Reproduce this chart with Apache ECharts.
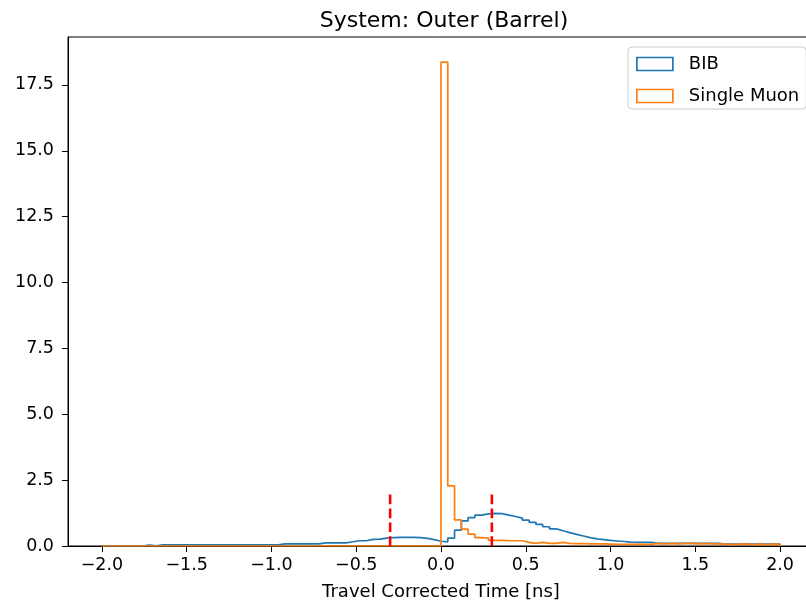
<!DOCTYPE html>
<html>
<head>
<meta charset="utf-8">
<script src="https://cdn.jsdelivr.net/npm/echarts@6/dist/echarts.min.js"></script>
<style>
  html, body { margin: 0; padding: 0; background: #ffffff; }
  #chart { width: 806px; height: 605px; }
</style>
</head>
<body>
<div id="chart"></div>
<script>
// Histogram binning: 100 bins of 0.04 ns covering [-2, 2]
const binStart = -2.0;
const binWidth = 0.04;
const binCount = 100;

// Normalised entries per bin, BIB hits
const bibCounts = [
  0, 0, 0, 0, 0, 0, 0.03, 0.01, 0.04, 0.04,
  0.04, 0.04, 0.04, 0.04, 0.04, 0.04, 0.04, 0.04, 0.04, 0.04,
  0.04, 0.04, 0.04, 0.04, 0.04, 0.04, 0.08, 0.08, 0.08, 0.08,
  0.08, 0.08, 0.12, 0.12, 0.12, 0.12, 0.16, 0.20, 0.20, 0.25,
  0.26, 0.30, 0.32, 0.33, 0.33, 0.33, 0.32, 0.29, 0.24, 0.18,
  0.16, 0.30, 0.60, 0.95, 1.08, 1.17, 1.22, 1.24, 1.23, 1.17,
  1.12, 1.06, 0.98, 0.90, 0.82, 0.73, 0.65, 0.58, 0.51, 0.44,
  0.38, 0.32, 0.27, 0.24, 0.21, 0.19, 0.17, 0.15, 0.14, 0.14,
  0.14, 0.10, 0.10, 0.10, 0.10, 0.10, 0.10, 0.10, 0.10, 0.10,
  0.10, 0.07, 0.07, 0.07, 0.07, 0.07, 0.07, 0.07, 0.07, 0.07
];

// Normalised entries per bin, single muon hits
const muonCounts = [
  0, 0, 0, 0, 0, 0, 0, 0, 0, 0,
  0, 0, 0, 0, 0, 0, 0, 0, 0, 0,
  0, 0, 0, 0, 0, 0, 0, 0, 0, 0,
  0, 0, 0, 0, 0, 0, 0, 0, 0, 0,
  0, 0, 0, 0, 0, 0, 0, 0, 0, 0,
  18.37, 2.28, 0.99, 0.64, 0.45, 0.32, 0.30, 0.21, 0.21, 0.20,
  0.20, 0.20, 0.14, 0.10, 0.14, 0.10, 0.10, 0.14, 0.10, 0.09,
  0.09, 0.08, 0.08, 0.08, 0.07, 0.06, 0.06, 0.06, 0.06, 0.06,
  0.06, 0.10, 0.08, 0.10, 0.08, 0.10, 0.10, 0.08, 0.10, 0.08,
  0.08, 0.07, 0.05, 0.07, 0.07, 0.05, 0.07, 0.05, 0.07, 0.06
];

// Timing window cut markers
const cutTimes = [-0.3, 0.3];
const cutHeight = 2.0;

// Axis ranges and tick positions
const xRange = [-2.2, 2.2];
const yRange = [0, 19.32];
const xTicks = [-2.0, -1.5, -1.0, -0.5, 0.0, 0.5, 1.0, 1.5, 2.0];
const yTicks = [0, 2.5, 5.0, 7.5, 10.0, 12.5, 15.0, 17.5];

const FONT = 'DejaVu Sans';
const BLUE = '#1f77b4';
const ORANGE = '#ff7f0e';

function edge(i) {
  return +(binStart + i * binWidth).toFixed(4);
}

// Outline of a step histogram: rise from zero, bin tops, fall back to zero
function stepOutline(counts) {
  const pts = [[edge(0), 0]];
  for (let i = 0; i < binCount; i++) {
    pts.push([edge(i), counts[i]]);
    pts.push([edge(i + 1), counts[i]]);
  }
  pts.push([edge(binCount), 0]);
  return pts;
}

const fmtTick = v => (v < 0 ? '\u2212' : '') + Math.abs(v).toFixed(1);

const tickLabelStyle = { fontFamily: FONT, fontSize: 17.5, color: '#000000' };

const cutSeries = cutTimes.map(t => ({
  type: 'line',
  data: [[t, 0], [t, cutHeight]],
  symbol: 'none',
  silent: true,
  z: 4,
  lineStyle: { color: '#ff0000', width: 2.6, type: [9.7, 4.2] }
}));

const chart = echarts.init(document.getElementById('chart'));
chart.setOption({
  animation: false,
  title: {
    text: 'System: Outer (Barrel)',
    left: 439,
    top: 5,
    textAlign: 'center',
    textStyle: { fontFamily: FONT, fontSize: 22, fontWeight: 'normal', color: '#000000' }
  },
  grid: {
    left: 68, right: -8, top: 37, bottom: 59,
    show: true, borderColor: '#000000', borderWidth: 1,
    backgroundColor: 'transparent',
    containLabel: false,
    outerBoundsMode: 'none'
  },
  legend: {
    orient: 'vertical',
    left: 628,
    top: 47,
    padding: [8, 7, 4, 8],
    itemWidth: 36,
    itemHeight: 13,
    itemGap: 14,
    backgroundColor: 'rgba(255,255,255,0.8)',
    borderColor: '#cccccc',
    borderWidth: 1,
    borderRadius: 4,
    z: 10,
    textStyle: { fontFamily: FONT, fontSize: 18, color: '#000000', padding: [0, 0, 0, 11] },
    data: [
      { name: 'BIB', icon: 'rect', itemStyle: { color: 'rgba(0,0,0,0)', borderColor: BLUE, borderWidth: 1.7 } },
      { name: 'Single Muon', icon: 'rect', itemStyle: { color: 'rgba(0,0,0,0)', borderColor: ORANGE, borderWidth: 1.7 } }
    ]
  },
  xAxis: {
    type: 'value',
    min: xRange[0],
    max: xRange[1],
    name: 'Travel Corrected Time [ns]',
    nameLocation: 'middle',
    nameGap: 37,
    nameTextStyle: { fontFamily: FONT, fontSize: 18, color: '#000000' },
    axisLine: { show: true, onZero: false, lineStyle: { color: '#000000', width: 1 } },
    axisTick: { show: true, length: 6, customValues: xTicks, lineStyle: { color: '#000000', width: 1 } },
    axisLabel: Object.assign({ customValues: xTicks, formatter: fmtTick, margin: 10 }, tickLabelStyle),
    splitLine: { show: false }
  },
  yAxis: {
    type: 'value',
    min: yRange[0],
    max: yRange[1],
    axisLine: { show: true, onZero: false, lineStyle: { color: '#000000', width: 1 } },
    axisTick: { show: true, length: 6, customValues: yTicks, lineStyle: { color: '#000000', width: 1 } },
    axisLabel: Object.assign({ customValues: yTicks, formatter: v => v.toFixed(1), margin: 14 }, tickLabelStyle),
    splitLine: { show: false }
  },
  series: [
    {
      name: 'BIB',
      type: 'line',
      data: stepOutline(bibCounts),
      symbol: 'none',
      silent: true,
      z: 2,
      itemStyle: { color: BLUE },
      lineStyle: { color: BLUE, width: 1.7 }
    },
    {
      name: 'Single Muon',
      type: 'line',
      data: stepOutline(muonCounts),
      symbol: 'none',
      silent: true,
      z: 3,
      itemStyle: { color: ORANGE },
      lineStyle: { color: ORANGE, width: 1.7 }
    }
  ].concat(cutSeries)
});
</script>
</body>
</html>
